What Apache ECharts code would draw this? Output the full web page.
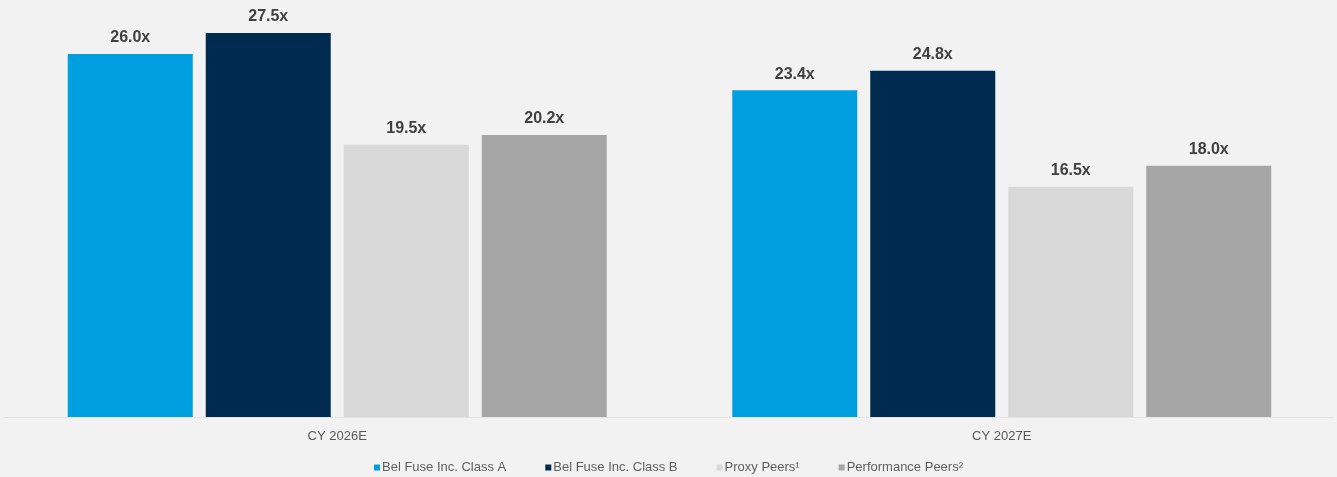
<!DOCTYPE html>
<html>
<head>
<meta charset="utf-8">
<script src="https://cdn.jsdelivr.net/npm/echarts@6/dist/echarts.min.js"></script>
<style>
  html, body { margin: 0; padding: 0; background: #f2f2f2; }
  #chart { width: 1337px; height: 477px; }
</style>
</head>
<body>
<div id="chart"></div>
<script>
// Forward P/E multiples by calendar year
const categories = ['CY 2026E', 'CY 2027E'];
const seriesNames = ['Bel Fuse Inc. Class A', 'Bel Fuse Inc. Class B', 'Proxy Peers\u00B9', 'Performance Peers\u00B2'];
const classA = [26.0, 23.4];
const classB = [27.5, 24.8];
const proxyPeers = [19.5, 16.5];
const performancePeers = [20.2, 18.0];
const colors = ['#009fdf', '#002b51', '#d9d9d9', '#a6a6a6'];

const values = [classA, classB, proxyPeers, performancePeers];
const font = '"Liberation Sans", Arial, sans-serif';

const chart = echarts.init(document.getElementById('chart'), null, { renderer: 'canvas' });

chart.setOption({
  backgroundColor: '#f2f2f2',
  animation: false,
  textStyle: { fontFamily: font },
  grid: { left: 5, right: 3, top: 0, bottom: 60, containLabel: false },
  legend: {
    top: 456,
    left: 'center',
    itemWidth: 6,
    itemHeight: 6,
    itemGap: 39,
    icon: 'rect',
    textStyle: { fontFamily: font, fontSize: 13, color: '#606060', padding: [0, 0, 0, -3] },
    data: seriesNames
  },
  xAxis: {
    type: 'category',
    data: categories,
    axisTick: { show: false },
    axisLine: { show: true, lineStyle: { color: '#e4e4e4', width: 1 } },
    axisLabel: { color: '#595959', fontSize: 13, fontFamily: font, margin: 13 }
  },
  yAxis: {
    type: 'value',
    min: 0,
    max: 29.87,
    show: false,
    splitLine: { show: false }
  },
  series: seriesNames.map((name, i) => ({
    name: name,
    type: 'bar',
    data: values[i],
    barWidth: 125,
    barGap: '10.4%',
    barCategoryGap: '18.9%',
    itemStyle: { color: colors[i] },
    label: {
      show: true,
      position: 'top',
      distance: 8,
      formatter: p => p.value.toFixed(1) + 'x',
      color: '#404040',
      fontSize: 16,
      fontWeight: 'bold',
      fontFamily: font
    }
  }))
});
</script>
</body>
</html>
